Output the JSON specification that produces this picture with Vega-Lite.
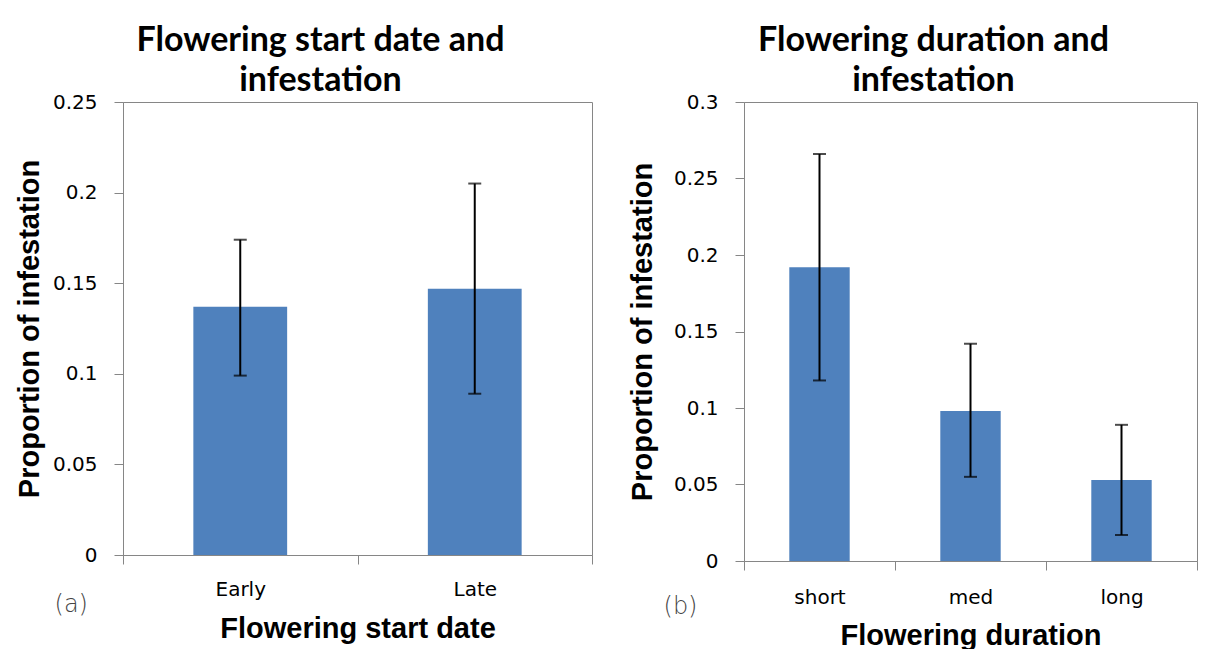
{
  "$schema": "https://vega.github.io/schema/vega-lite/v6.json",
  "background": "white",
  "padding": {"left": 14, "top": 23, "right": 5, "bottom": 5},
  "datasets": {
    "start": [
      {"date": "Early", "prop": 0.137, "lower": 0.099, "upper": 0.174},
      {"date": "Late", "prop": 0.147, "lower": 0.089, "upper": 0.205}
    ],
    "duration": [
      {"dur": "short", "prop": 0.192, "lower": 0.118, "upper": 0.266},
      {"dur": "med", "prop": 0.098, "lower": 0.055, "upper": 0.142},
      {"dur": "long", "prop": 0.053, "lower": 0.017, "upper": 0.089}
    ]
  },
  "config": {
    "view": {"stroke": "#868686", "strokeWidth": 1},
    "axis": {
      "domainColor": "#868686", "tickColor": "#868686", "tickSize": 9, "grid": false,
      "labelFont": "DejaVu Sans", "labelFontSize": 20, "labelColor": "#000000",
      "titleFont": "Liberation Sans", "titleFontSize": 29, "titleFontWeight": "bold", "titleColor": "#000000"
    },
    "title": {"font": "Lato", "fontSize": 34, "fontWeight": "bold", "color": "#000000", "lineHeight": 40, "anchor": "middle", "offset": -6, "dx": -37}
  },
  "spacing": 34,
  "hconcat": [
    {
      "width": 469, "height": 453,
      "title": {"text": ["Flowering start date and", "infestation"]},
      "data": {"name": "start"},
      "layer": [
        {
          "mark": {"type": "bar", "color": "#4F81BD", "width": {"band": 0.4}},
          "encoding": {
            "x": {"field": "date", "type": "nominal", "sort": null, "scale": {"paddingInner": 0, "paddingOuter": 0},
              "axis": {"title": "Flowering start date", "labelAngle": 0, "tickBand": "extent", "labelPadding": 15, "titlePadding": 15}},
            "y": {"field": "prop", "type": "quantitative", "scale": {"domain": [0, 0.25], "nice": false},
              "axis": {"title": "Proportion of infestation", "values": [0, 0.05, 0.1, 0.15, 0.2, 0.25], "format": ".2~f", "labelPadding": 17, "titlePadding": 8}}
          }
        },
        {
          "mark": {"type": "rule", "color": "#000000", "strokeWidth": 2},
          "encoding": {
            "x": {"field": "date", "type": "nominal", "sort": null},
            "y": {"field": "lower", "type": "quantitative"},
            "y2": {"field": "upper"}
          }
        },
        {
          "mark": {"type": "tick", "color": "#000000", "thickness": 2, "size": 13},
          "encoding": {
            "x": {"field": "date", "type": "nominal", "sort": null},
            "y": {"field": "lower", "type": "quantitative"}
          }
        },
        {
          "mark": {"type": "tick", "color": "#000000", "thickness": 2, "size": 13},
          "encoding": {
            "x": {"field": "date", "type": "nominal", "sort": null},
            "y": {"field": "upper", "type": "quantitative"}
          }
        },
        {
          "data": {"values": [{"label": "(a)"}]},
          "mark": {"type": "text", "font": "DejaVu Sans", "fontSize": 24, "fontWeight": 300, "color": "#444444", "dx": -169, "dy": 50},
          "encoding": {
            "x": {"datum": "Early"},
            "y": {"datum": 0},
            "text": {"field": "label"}
          }
        }
      ]
    },
    {
      "width": 453, "height": 459,
      "title": {"text": ["Flowering duration and", "infestation"]},
      "data": {"name": "duration"},
      "layer": [
        {
          "mark": {"type": "bar", "color": "#4F81BD", "width": {"band": 0.4}},
          "encoding": {
            "x": {"field": "dur", "type": "nominal", "sort": null, "scale": {"paddingInner": 0, "paddingOuter": 0},
              "axis": {"title": "Flowering duration", "labelAngle": 0, "tickBand": "extent", "labelPadding": 17, "titlePadding": 14}},
            "y": {"field": "prop", "type": "quantitative", "scale": {"domain": [0, 0.3], "nice": false},
              "axis": {"title": "Proportion of infestation", "values": [0, 0.05, 0.1, 0.15, 0.2, 0.25, 0.3], "format": ".2~f", "labelPadding": 17, "titlePadding": 16}}
          }
        },
        {
          "mark": {"type": "rule", "color": "#000000", "strokeWidth": 2},
          "encoding": {
            "x": {"field": "dur", "type": "nominal", "sort": null},
            "y": {"field": "lower", "type": "quantitative"},
            "y2": {"field": "upper"}
          }
        },
        {
          "mark": {"type": "tick", "color": "#000000", "thickness": 2, "size": 13},
          "encoding": {
            "x": {"field": "dur", "type": "nominal", "sort": null},
            "y": {"field": "lower", "type": "quantitative"}
          }
        },
        {
          "mark": {"type": "tick", "color": "#000000", "thickness": 2, "size": 13},
          "encoding": {
            "x": {"field": "dur", "type": "nominal", "sort": null},
            "y": {"field": "upper", "type": "quantitative"}
          }
        },
        {
          "data": {"values": [{"label": "(b)"}]},
          "mark": {"type": "text", "font": "DejaVu Sans", "fontSize": 24, "fontWeight": 300, "color": "#444444", "dx": -139, "dy": 46},
          "encoding": {
            "x": {"datum": "short"},
            "y": {"datum": 0},
            "text": {"field": "label"}
          }
        }
      ]
    }
  ]
}
